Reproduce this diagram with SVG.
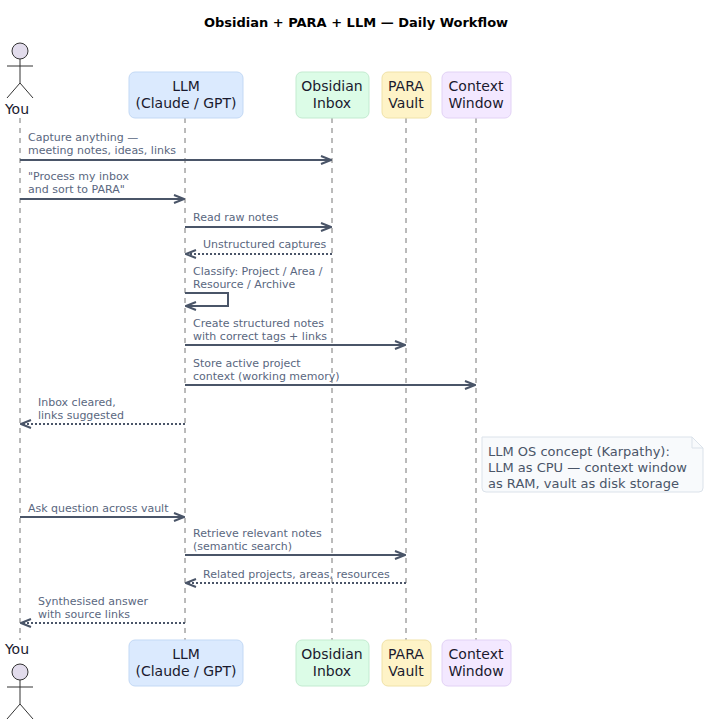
<svg xmlns="http://www.w3.org/2000/svg" width="712" height="722" viewBox="0 0 712 722">
<defs>
<style>
text{font-family:"DejaVu Sans",sans-serif}
.t{font-size:13px;font-weight:bold;fill:#000}
.pl{font-size:14px;fill:#1a1a2e;text-anchor:middle}
.ml{font-size:11px;fill:#5a6780}
.life{stroke:#777;stroke-width:1;stroke-dasharray:5,5}
.m{stroke:#4a5568;stroke-width:2;fill:none}
.d{stroke:#4a5568;stroke-width:2;fill:none;stroke-dasharray:2,2}
.act{stroke:#333;stroke-width:1;fill:none}
</style>
<marker id="a" markerWidth="12" markerHeight="10" refX="11" refY="5" orient="auto" markerUnits="userSpaceOnUse"><path d="M1,1 L11,5 L1,9" fill="none" stroke="#4a5568" stroke-width="2"/></marker>
</defs>
<rect width="712" height="722" fill="#fff"/>
<text class="t" x="356" y="27" text-anchor="middle">Obsidian + PARA + LLM — Daily Workflow</text>
<g id="lifelines">
<line class="life" x1="20" y1="118" x2="20" y2="640"/>
<line class="life" x1="185" y1="118" x2="185" y2="640"/>
<line class="life" x1="332" y1="118" x2="332" y2="640"/>
<line class="life" x1="406" y1="118" x2="406" y2="640"/>
<line class="life" x1="476" y1="118" x2="476" y2="640"/>
</g>
<g id="you">
<circle cx="20" cy="51" r="8" fill="#e2dcec" stroke="#333"/>
<path class="act" d="M20,59 V83 M7,66 H33 M20,83 L7,98 M20,83 L33,98"/>
<text class="pl" x="17" y="114">You</text>
<text class="pl" x="17" y="654">You</text>
<circle cx="20" cy="672" r="8" fill="#e2dcec" stroke="#333"/>
<path class="act" d="M20,680 V704 M7,687 H33 M20,704 L7,719 M20,704 L33,719"/>
</g>
<g id="llm">
<rect x="129" y="72" width="114" height="46" rx="6" fill="#dbeafe" stroke="#c3d9f5"/>
<text class="pl" x="186" y="91">LLM</text><text class="pl" x="186" y="108">(Claude / GPT)</text>
<rect x="129" y="640" width="114" height="46" rx="6" fill="#dbeafe" stroke="#c3d9f5"/>
<text class="pl" x="186" y="659">LLM</text><text class="pl" x="186" y="676">(Claude / GPT)</text>
</g>
<g id="inbox">
<rect x="296" y="72" width="73" height="46" rx="6" fill="#dcfce7" stroke="#c3ebd0"/>
<text class="pl" x="332" y="91">Obsidian</text><text class="pl" x="332" y="108">Inbox</text>
<rect x="296" y="640" width="73" height="46" rx="6" fill="#dcfce7" stroke="#c3ebd0"/>
<text class="pl" x="332" y="659">Obsidian</text><text class="pl" x="332" y="676">Inbox</text>
</g>
<g id="para">
<rect x="382" y="72" width="49" height="46" rx="6" fill="#fef3c7" stroke="#f0e2a8"/>
<text class="pl" x="406" y="91">PARA</text><text class="pl" x="406" y="108">Vault</text>
<rect x="382" y="640" width="49" height="46" rx="6" fill="#fef3c7" stroke="#f0e2a8"/>
<text class="pl" x="406" y="659">PARA</text><text class="pl" x="406" y="676">Vault</text>
</g>
<g id="context">
<rect x="442" y="72" width="69" height="46" rx="6" fill="#f3e8ff" stroke="#e2d2f5"/>
<text class="pl" x="476" y="91">Context</text><text class="pl" x="476" y="108">Window</text>
<rect x="442" y="640" width="69" height="46" rx="6" fill="#f3e8ff" stroke="#e2d2f5"/>
<text class="pl" x="476" y="659">Context</text><text class="pl" x="476" y="676">Window</text>
</g>
<g id="note">
<path d="M482,437 H692 L703,448 V488 Q703,492 699,492 H486 Q482,492 482,488 Z" fill="#f8fafc" stroke="#dbe2ea"/>
<path d="M692,437 V448 H703" fill="none" stroke="#dbe2ea"/>
<text x="488" y="456" font-size="13" fill="#4a5568">LLM OS concept (Karpathy):</text>
<text x="488" y="472" font-size="13" fill="#4a5568">LLM as CPU — context window</text>
<text x="488" y="488" font-size="13" fill="#4a5568">as RAM, vault as disk storage</text>
</g>
<g id="connectors">
<text class="ml" x="28" y="141">Capture anything —</text><text class="ml" x="28" y="154">meeting notes, ideas, links</text>
<line class="m" x1="20" y1="160" x2="331" y2="160" marker-end="url(#a)"/>
<text class="ml" x="28" y="180">"Process my inbox</text><text class="ml" x="28" y="193">and sort to PARA"</text>
<line class="m" x1="20" y1="199" x2="184" y2="199" marker-end="url(#a)"/>
<text class="ml" x="193" y="221">Read raw notes</text>
<line class="m" x1="185" y1="227" x2="331" y2="227" marker-end="url(#a)"/>
<text class="ml" x="203" y="248">Unstructured captures</text>
<line class="d" x1="332" y1="254" x2="186" y2="254" marker-end="url(#a)"/>
<text class="ml" x="193" y="275">Classify: Project / Area /</text><text class="ml" x="193" y="288">Resource / Archive</text>
<path class="m" d="M185,293 H228 V306 H186" marker-end="url(#a)"/>
<text class="ml" x="193" y="327">Create structured notes</text><text class="ml" x="193" y="340">with correct tags + links</text>
<line class="m" x1="185" y1="345" x2="405" y2="345" marker-end="url(#a)"/>
<text class="ml" x="193" y="367">Store active project</text><text class="ml" x="193" y="380">context (working memory)</text>
<line class="m" x1="185" y1="385" x2="475" y2="385" marker-end="url(#a)"/>
<text class="ml" x="38" y="406">Inbox cleared,</text><text class="ml" x="38" y="419">links suggested</text>
<line class="d" x1="185" y1="424" x2="21" y2="424" marker-end="url(#a)"/>
<text class="ml" x="28" y="512">Ask question across vault</text>
<line class="m" x1="20" y1="517" x2="184" y2="517" marker-end="url(#a)"/>
<text class="ml" x="193" y="537">Retrieve relevant notes</text><text class="ml" x="193" y="550">(semantic search)</text>
<line class="m" x1="185" y1="555" x2="405" y2="555" marker-end="url(#a)"/>
<text class="ml" x="203" y="578">Related projects, areas, resources</text>
<line class="d" x1="406" y1="583" x2="186" y2="583" marker-end="url(#a)"/>
<text class="ml" x="38" y="605">Synthesised answer</text><text class="ml" x="38" y="618">with source links</text>
<line class="d" x1="185" y1="623" x2="21" y2="623" marker-end="url(#a)"/>
</g>
</svg>
